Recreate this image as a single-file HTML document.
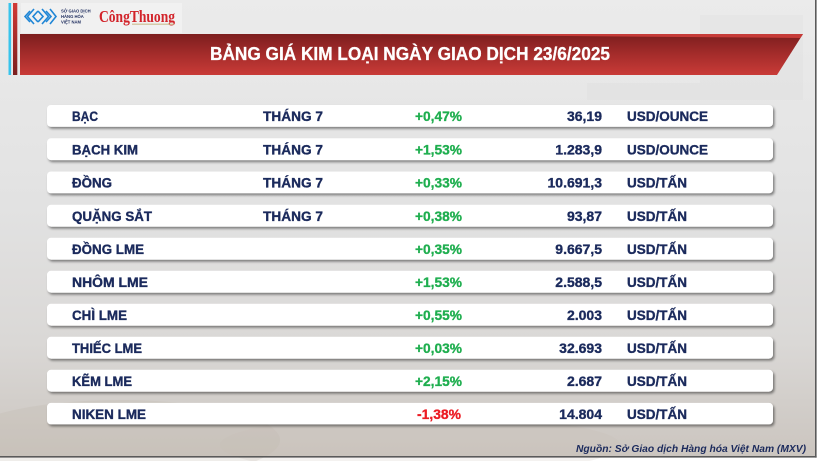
<!DOCTYPE html>
<html>
<head>
<meta charset="utf-8">
<style>
html,body{margin:0;padding:0;background:#fff;}
svg{display:block;}
text{font-family:"Liberation Sans","Noto Sans CJK SC",sans-serif;font-weight:bold;}
</style>
</head>
<body>
<svg width="820" height="461" viewBox="0 0 820 461" xmlns="http://www.w3.org/2000/svg">
<defs>
  <linearGradient id="bg" x1="0" y1="0" x2="0" y2="1">
    <stop offset="0" stop-color="#ebebeb"/>
    <stop offset="0.45" stop-color="#e2e2e2"/>
    <stop offset="0.75" stop-color="#dad8d6"/>
    <stop offset="1" stop-color="#cbc5bf"/>
  </linearGradient>
  <linearGradient id="ban" x1="0" y1="0" x2="0" y2="1">
    <stop offset="0" stop-color="#7c1e1e"/>
    <stop offset="0.5" stop-color="#a52c2b"/>
    <stop offset="1" stop-color="#c93b37"/>
  </linearGradient>
  <linearGradient id="redbar" x1="0" y1="0" x2="0" y2="1">
    <stop offset="0" stop-color="#d23a36"/>
    <stop offset="1" stop-color="#7a1f1f"/>
  </linearGradient>
  <filter id="sh" x="-5%" y="-50%" width="110%" height="200%">
    <feDropShadow dx="1.5" dy="2" stdDeviation="1.4" flood-color="#000" flood-opacity="0.45"/>
  </filter>
</defs>

<!-- background -->
<rect x="0" y="0" width="816" height="457" fill="url(#bg)"/>
<rect x="700" y="15" width="103" height="85" fill="#d9d9d9" opacity="0.2"/>
<rect x="587" y="83" width="113" height="17" fill="#d9d9d9" opacity="0.2"/>
<ellipse cx="120" cy="440" rx="160" ry="40" fill="#bfb6ac" opacity="0.25"/>
<ellipse cx="420" cy="445" rx="200" ry="30" fill="#c7bfb6" opacity="0.2"/>

<!-- borders -->
<rect x="815" y="0" width="1.6" height="457.6" fill="#5a5a5a"/>
<rect x="0" y="456" width="816.6" height="1.6" fill="#5a5a5a"/>

<!-- left bars -->
<rect x="8.5" y="3" width="2.6" height="72" fill="#38c4ec"/>
<rect x="13" y="3" width="4.3" height="72" fill="url(#redbar)"/>

<!-- logo box -->
<rect x="21" y="3" width="161" height="30" fill="#f1f1f1"/>
<g fill="none" stroke="#1f86d6" stroke-width="1.6">
  <polyline points="30,11 25,16.5 30,22"/>
  <polyline points="34,9 27.5,16.5 34,24"/>
  <polyline points="38,11 33,16.5 38,22"/>
  <polyline points="38,11 43,16.5 38,22"/>
  <polyline points="42,9 48.5,16.5 42,24"/>
  <polyline points="46,11 51,16.5 46,22"/>
  <polyline points="50,9 56,16.5 50,24"/>
</g>
<text x="61" y="12.5" font-size="4.2" fill="#1b2a5c">SỞ GIAO DỊCH</text>
<text x="61" y="18" font-size="4.2" fill="#1b2a5c">HÀNG HÓA</text>
<text x="61" y="23.5" font-size="4.2" fill="#1b2a5c">VIỆT NAM</text>
<text x="99" y="22" font-size="17" textLength="76" lengthAdjust="spacingAndGlyphs" fill="#d2232a" style="font-family:'Liberation Serif',serif;font-weight:bold;">CôngThuong</text>
<rect x="132" y="23.5" width="42" height="1.5" fill="#c9b98a" opacity="0.7"/>

<!-- banner -->
<polygon points="20,34 803,34 777,75 20,75" fill="url(#ban)"/>
<polygon points="330,34 803,34 800.5,38" fill="#d8423f" opacity="0.8"/>
<text x="210" y="60" font-size="18.5" textLength="400" lengthAdjust="spacingAndGlyphs" fill="#ffffff" stroke="#ffffff" stroke-width="0.3">BẢNG GIÁ KIM LOẠI NGÀY GIAO DỊCH 23/6/2025</text>

<!-- rows -->
<g filter="url(#sh)" fill="#ffffff">
  <rect x="47" y="105" width="726" height="21.8" rx="4"/>
  <rect x="47" y="138.3" width="726" height="21.8" rx="4"/>
  <rect x="47" y="171.5" width="726" height="21.8" rx="4"/>
  <rect x="47" y="204.8" width="726" height="21.8" rx="4"/>
  <rect x="47" y="237.8" width="726" height="21.8" rx="4"/>
  <rect x="47" y="270.8" width="726" height="21.8" rx="4"/>
  <rect x="47" y="303.8" width="726" height="21.8" rx="4"/>
  <rect x="47" y="336.8" width="726" height="21.8" rx="4"/>
  <rect x="47" y="369.8" width="726" height="21.8" rx="4"/>
  <rect x="47" y="402.9" width="726" height="21.5" rx="4"/>
</g>

<g font-size="13.5" fill="#1b2a5c" stroke="#1b2a5c" stroke-width="0.35">
  <!-- names -->
  <text x="72" y="121" textLength="26" lengthAdjust="spacingAndGlyphs">BẠC</text>
  <text x="72" y="154.3" textLength="66" lengthAdjust="spacingAndGlyphs">BẠCH KIM</text>
  <text x="72" y="187.5" textLength="40" lengthAdjust="spacingAndGlyphs">ĐỒNG</text>
  <text x="72" y="220.8" textLength="80" lengthAdjust="spacingAndGlyphs">QUẶNG SẮT</text>
  <text x="72" y="253.8" textLength="72" lengthAdjust="spacingAndGlyphs">ĐỒNG LME</text>
  <text x="72" y="286.8" textLength="76" lengthAdjust="spacingAndGlyphs">NHÔM LME</text>
  <text x="72" y="319.8" textLength="55" lengthAdjust="spacingAndGlyphs">CHÌ LME</text>
  <text x="72" y="352.8" textLength="70" lengthAdjust="spacingAndGlyphs">THIẾC LME</text>
  <text x="72" y="385.8" textLength="60" lengthAdjust="spacingAndGlyphs">KẼM LME</text>
  <text x="72" y="418.8" textLength="74" lengthAdjust="spacingAndGlyphs">NIKEN LME</text>

  <!-- month -->
  <text x="263" y="121" textLength="60" lengthAdjust="spacingAndGlyphs">THÁNG 7</text>
  <text x="263" y="154.3" textLength="60" lengthAdjust="spacingAndGlyphs">THÁNG 7</text>
  <text x="263" y="187.5" textLength="60" lengthAdjust="spacingAndGlyphs">THÁNG 7</text>
  <text x="263" y="220.8" textLength="60" lengthAdjust="spacingAndGlyphs">THÁNG 7</text>

  <!-- values -->
  <g text-anchor="end" font-size="14">
    <text x="602" y="121">36,19</text>
    <text x="602" y="154.3">1.283,9</text>
    <text x="602" y="187.5">10.691,3</text>
    <text x="602" y="220.8">93,87</text>
    <text x="602" y="253.8">9.667,5</text>
    <text x="602" y="286.8">2.588,5</text>
    <text x="602" y="319.8">2.003</text>
    <text x="602" y="352.8">32.693</text>
    <text x="602" y="385.8">2.687</text>
    <text x="602" y="418.8">14.804</text>
  </g>

  <!-- units -->
  <text x="627" y="121" textLength="81" lengthAdjust="spacingAndGlyphs">USD/OUNCE</text>
  <text x="627" y="154.3" textLength="81" lengthAdjust="spacingAndGlyphs">USD/OUNCE</text>
  <text x="627" y="187.5" textLength="60" lengthAdjust="spacingAndGlyphs">USD/TẤN</text>
  <text x="627" y="220.8" textLength="60" lengthAdjust="spacingAndGlyphs">USD/TẤN</text>
  <text x="627" y="253.8" textLength="60" lengthAdjust="spacingAndGlyphs">USD/TẤN</text>
  <text x="627" y="286.8" textLength="60" lengthAdjust="spacingAndGlyphs">USD/TẤN</text>
  <text x="627" y="319.8" textLength="60" lengthAdjust="spacingAndGlyphs">USD/TẤN</text>
  <text x="627" y="352.8" textLength="60" lengthAdjust="spacingAndGlyphs">USD/TẤN</text>
  <text x="627" y="385.8" textLength="60" lengthAdjust="spacingAndGlyphs">USD/TẤN</text>
  <text x="627" y="418.8" textLength="60" lengthAdjust="spacingAndGlyphs">USD/TẤN</text>
</g>

<!-- percentages -->
<g font-size="13.5" fill="#1fae4f" stroke="#1fae4f" stroke-width="0.3">
  <text x="415" y="121" textLength="47" lengthAdjust="spacingAndGlyphs">+0,47%</text>
  <text x="415" y="154.3" textLength="47" lengthAdjust="spacingAndGlyphs">+1,53%</text>
  <text x="415" y="187.5" textLength="47" lengthAdjust="spacingAndGlyphs">+0,33%</text>
  <text x="415" y="220.8" textLength="47" lengthAdjust="spacingAndGlyphs">+0,38%</text>
  <text x="415" y="253.8" textLength="47" lengthAdjust="spacingAndGlyphs">+0,35%</text>
  <text x="415" y="286.8" textLength="47" lengthAdjust="spacingAndGlyphs">+1,53%</text>
  <text x="415" y="319.8" textLength="47" lengthAdjust="spacingAndGlyphs">+0,55%</text>
  <text x="415" y="352.8" textLength="47" lengthAdjust="spacingAndGlyphs">+0,03%</text>
  <text x="415" y="385.8" textLength="47" lengthAdjust="spacingAndGlyphs">+2,15%</text>
</g>
<text x="417" y="418.8" font-size="13.5" fill="#ec1c24" stroke="#ec1c24" stroke-width="0.3" textLength="44" lengthAdjust="spacingAndGlyphs">-1,38%</text>

<!-- source -->
<text x="576" y="452" font-size="10.5" font-style="italic" fill="#1b2a5c" textLength="230" lengthAdjust="spacingAndGlyphs">Nguồn: Sở Giao dịch Hàng hóa Việt Nam (MXV)</text>
</svg>
</body>
</html>
